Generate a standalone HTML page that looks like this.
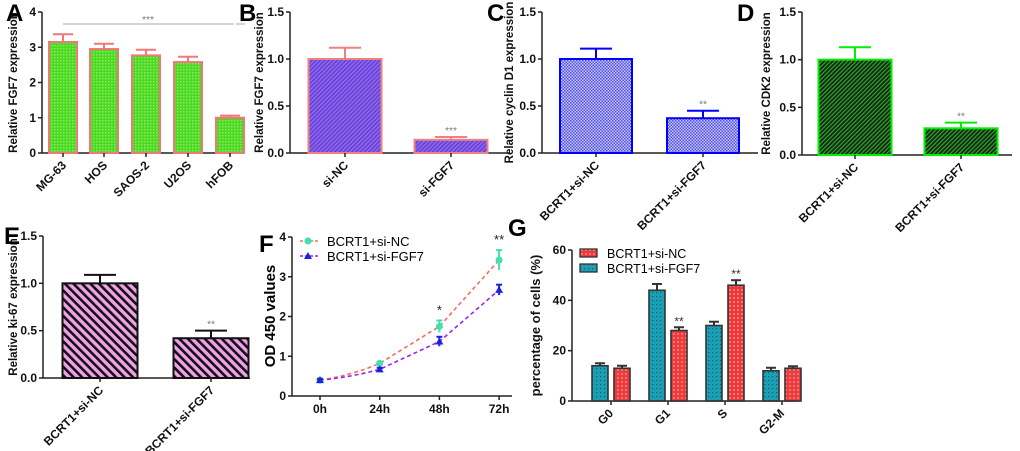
<!DOCTYPE html>
<html><head><meta charset="utf-8"><style>
html,body{margin:0;padding:0;background:#fff;}
svg{display:block;font-family:"Liberation Sans",Arial,sans-serif;}
.tk{font-size:12px;font-weight:bold;fill:#111;}
.yt{font-size:11.5px;font-weight:bold;fill:#111;}
.pl{font-size:24px;font-weight:bold;fill:#000;}
.st{font-size:10px;fill:#777;}
</style></head><body>
<svg id="fig" width="1020" height="451" viewBox="0 0 1020 451">
<defs>
<pattern id="pA" width="3" height="3" patternUnits="userSpaceOnUse"><rect width="3" height="3" fill="#44dd22"/><rect width="1.5" height="1.5" fill="#9be060"/></pattern>
<pattern id="pB" width="3" height="3" patternUnits="userSpaceOnUse" patternTransform="rotate(45)"><rect width="3" height="3" fill="#4a4af0"/><rect width="1.4" height="3" fill="#b060d0"/></pattern>
<pattern id="pC" width="3" height="3" patternUnits="userSpaceOnUse"><rect width="3" height="3" fill="#c8c8ff"/><rect width="1.5" height="1.5" fill="#5050e0"/><rect x="1.5" y="1.5" width="1.5" height="1.5" fill="#5050e0"/></pattern>
<pattern id="pD" width="3" height="3" patternUnits="userSpaceOnUse" patternTransform="rotate(45)"><rect width="3" height="3" fill="#0a2a0a"/><rect width="1.2" height="3" fill="#3aa03a"/></pattern>
<pattern id="pE" width="6" height="6" patternUnits="userSpaceOnUse" patternTransform="rotate(-45)"><rect width="6" height="6" fill="#f0a0e8"/><rect width="2.6" height="6" fill="#111"/></pattern>
<pattern id="pT" width="4" height="4" patternUnits="userSpaceOnUse"><rect width="4" height="4" fill="#1a9fb5"/><rect width="1.2" height="1.2" fill="#0c5c70"/></pattern>
<pattern id="pR" width="4" height="4" patternUnits="userSpaceOnUse"><rect width="4" height="4" fill="#ee3a3a"/><circle cx="2" cy="2" r="0.9" fill="#f8a0a0"/></pattern>
</defs>
</svg>
<script>
// ---- data ----
const catA=["MG-63","HOS","SAOS-2","U2OS","hFOB"];
const valA=[3.15,2.95,2.77,2.58,1.0];
const errA=[0.22,0.15,0.16,0.15,0.06];
const catB=["si-NC","si-FGF7"];
const valB=[1.0,0.14];
const errB=[0.12,0.03];
const catC=["BCRT1+si-NC","BCRT1+si-FGF7"];
const valC=[1.0,0.37];
const errC=[0.11,0.08];
const valD=[1.0,0.28];
const errD=[0.13,0.06];
const valE=[1.0,0.42];
const errE=[0.09,0.08];
const timeF=["0h","24h","48h","72h"];
const ncF=[0.4,0.82,1.75,3.42];
const ncErrF=[0.03,0.04,0.15,0.25];
const fgF=[0.4,0.67,1.37,2.67];
const fgErrF=[0.03,0.04,0.12,0.13];
const phaseG=["G0","G1","S","G2-M"];
const fgG=[14,44,30,12];
const fgErrG=[1,2.5,1.5,1.2];
const ncG=[13,28,46,13];
const ncErrG=[1,1.3,2,0.8];
const ticks4=["0","1","2","3","4"];
const ticks15=["0.0","0.5","1.0","1.5"];
const ticksG=["0","20","40","60"];

const NS="http://www.w3.org/2000/svg";
const svg=document.getElementById('fig');
function mk(tag,at,parent,txt){const e=document.createElementNS(NS,tag);for(const k in at)e.setAttribute(k,at[k]);if(txt!==undefined)e.textContent=txt;(parent||svg).appendChild(e);return e;}

function axes(g,x0,x1,y0,y1,max,ticks,title,tx,tstyle){
  const ys=v=>y0-(v/max)*(y0-y1);
  const ya=mk('line',{x1:x0,y1:y1,x2:x0,y2:y0,stroke:'#222','stroke-width':1.5},g);
  
  
  const xa=mk('line',{x1:x0,y1:y0,x2:x1,y2:y0,stroke:'#222','stroke-width':1.5},g);
  
  
  ticks.forEach(t=>{const v=parseFloat(t);const y=ys(v);
    mk('line',{x1:x0-4,y1:y,x2:x0,y2:y,stroke:'#222','stroke-width':1.5},g);
    const l=mk('text',{x:x0-6,y:y+4,'text-anchor':'end',class:'tk'},g,t);
    
    });
  if(title){
  const tt=mk('text',{x:tx,y:(y0+y1)/2,'text-anchor':'middle',class:'yt',style:tstyle||'',transform:`rotate(-90 ${tx} ${(y0+y1)/2})`},g,title);
  
  }
  return ys;
}
function errBar(g,cx,ytop,yv,hw,col){
  mk('line',{x1:cx,y1:yv,x2:cx,y2:ytop,stroke:col,'stroke-width':2},g);
  mk('line',{x1:cx-hw,y1:ytop,x2:cx+hw,y2:ytop,stroke:col,'stroke-width':2},g);
}
function xLabel(g,x,y,t){
  const l=mk('text',{x:x,y:y,'text-anchor':'end',class:'tk',transform:`rotate(-45 ${x} ${y})`},g,t);
  
  
}
function panelLabel(x,y,t){
  const l=mk('text',{x:x,y:y,class:'pl'},svg,t);
  
  
}
function barPanel(name,o){
  const g=mk('g',{});
  
  
  const ys=axes(g,o.x0,o.x1,o.y0,o.y1,o.max,o.ticks,o.title,o.tx);
  o.vals.forEach((v,i)=>{
    const cx=o.centers[i];
    const top=ys(v);
    errBar(g,cx,ys(v+o.errs[i]),top,o.ebw,o.stroke);
    const r=mk('rect',{x:cx-o.bw/2,y:top,width:o.bw,height:o.y0-top,fill:o.fill,stroke:o.stroke,'stroke-width':o.sw},g);
    
    
    mk('line',{x1:cx,y1:o.y0,x2:cx,y2:o.y0+4,stroke:'#222','stroke-width':1.5},g);
    xLabel(g,cx+4,o.y0+13,o.cats[i]);
    if(o.sig&&o.sig[i]){const s=mk('text',{x:cx,y:ys(v+o.errs[i])-3,'text-anchor':'middle',class:'st'},g,o.sig[i]);
      
      }
  });
  return {g,ys};
}
// A
const pa=barPanel('panel-a',{x0:42,x1:245,y0:153,y1:12,max:4,ticks:ticks4,title:'Relative FGF7 expression',tx:17,
  vals:valA,errs:errA,cats:catA,centers:[63,104,146,188,230],bw:28,ebw:10,fill:'url(#pA)',stroke:'#f07878',sw:2});
mk('line',{x1:63,y1:24,x2:234,y2:24,stroke:'#aaa','stroke-width':1},pa.g);
mk('line',{x1:236,y1:24,x2:245,y2:24,stroke:'#aaa','stroke-width':1},pa.g);
const sa=mk('text',{x:148,y:23,'text-anchor':'middle',class:'st'},pa.g,'***');


// B
barPanel('panel-b',{x0:290,x1:510,y0:153,y1:12,max:1.5,ticks:ticks15,title:'Relative FGF7 expression',tx:263,
  vals:valB,errs:errB,cats:catB,centers:[345,451],bw:73,ebw:16,fill:'url(#pB)',stroke:'#f08080',sw:2,sig:['','***']});
// C
barPanel('panel-c',{x0:542,x1:758,y0:153,y1:12,max:1.5,ticks:ticks15,title:'Relative cyclin D1 expression',tx:513,
  vals:valC,errs:errC,cats:catC,centers:[596,703],bw:72,ebw:16,fill:'url(#pC)',stroke:'#0000ff',sw:2,sig:['','**']});
// D
barPanel('panel-d',{x0:802,x1:1012,y0:155,y1:12,max:1.5,ticks:ticks15,title:'Relative CDK2 expression',tx:770,
  vals:valD,errs:errD,cats:catC,centers:[855,961],bw:73,ebw:16,fill:'url(#pD)',stroke:'#00ee00',sw:2,sig:['','**']});
// E
barPanel('panel-e',{x0:43,x1:250,y0:378,y1:236,max:1.5,ticks:ticks15,title:'Relative ki-67 expression',tx:17,
  vals:valE,errs:errE,cats:catC,centers:[100,211],bw:75,ebw:16,fill:'url(#pE)',stroke:'#111',sw:2,sig:['','**']});

// F line chart
(function(){
  const g=mk('g',{});
  
  
  const x0=292,x1=512,y0=396,y1=237;
  const ys=axes(g,x0,x1,y0,y1,4,ticks4,'',0);
  const ti=mk('text',{x:275,y:316,'text-anchor':'middle',style:'font-size:15px;font-weight:bold',transform:'rotate(-90 275 316)'},g,'OD 450 values');
  
  
  const xs=i=>320+i*59.7;
  timeF.forEach((t,i)=>{mk('line',{x1:xs(i),y1:y0,x2:xs(i),y2:y0+4,stroke:'#222','stroke-width':1.5},g);
    const l=mk('text',{x:xs(i),y:413,'text-anchor':'middle',class:'tk'},g,t);
    
    });
  function curve(vals,col){let d='';for(let i=0;i<vals.length-1;i++){for(let k=0;k<=10;k++){const t=k/10;
      const v=vals[i]+(vals[i+1]-vals[i])*(i===0?t*t*0.5+t*0.5:t);d+=(d?'L':'M')+(xs(i)+t*59.7).toFixed(1)+','+ys(v).toFixed(1);}}
    return mk('path',{d:d,fill:'none',stroke:col,'stroke-width':1.6,'stroke-dasharray':'4,3'},g);}
  const l1=curve(ncF,'#f07060');
  const l2=curve(fgF,'#a020f0');
  ncF.forEach((v,i)=>{errBar(g,xs(i),ys(v+ncErrF[i]),ys(v-ncErrF[i]),3,'#40e0b0');
    const c=mk('circle',{cx:xs(i),cy:ys(v),r:3.5,fill:'#40e0b0'},g);
    
    });
  fgF.forEach((v,i)=>{errBar(g,xs(i),ys(v+fgErrF[i]),ys(v-fgErrF[i]),3,'#2020e0');
    const y=ys(v);const p=mk('polygon',{points:`${xs(i)-4},${y+3} ${xs(i)+4},${y+3} ${xs(i)},${y-4}`,fill:'#2020e0'},g);
    
    });
  [['*',2],['**',3]].forEach(([s,i])=>{const t=mk('text',{x:xs(i),y:ys(ncF[i]+ncErrF[i])-6,'text-anchor':'middle',style:'font-size:13px',fill:'#222'},g,s);
    });
  const lg=mk('g',{},g);
  mk('line',{x1:300,y1:241,x2:318,y2:241,stroke:'#f07060','stroke-dasharray':'3,2','stroke-width':1.6},lg);
  mk('circle',{cx:308,cy:241,r:3.5,fill:'#40e0b0'},lg);
  mk('text',{x:327,y:246,style:'font-size:13px'},lg,'BCRT1+si-NC');
  mk('line',{x1:300,y1:256,x2:318,y2:256,stroke:'#a020f0','stroke-dasharray':'3,2','stroke-width':1.6},lg);
  mk('polygon',{points:'304,259 312,259 308,252',fill:'#2020e0'},lg);
  mk('text',{x:327,y:261,style:'font-size:13px'},lg,'BCRT1+si-FGF7');
})();

// G grouped bars
(function(){
  const g=mk('g',{});
  
  
  const x0=572,x1=799,y0=401,y1=250;
  const ys=axes(g,x0,x1,y0,y1,60,ticksG,'percentage of cells (%)',540,'font-size:13px');
  const gc=i=>611+i*57;
  phaseG.forEach((p,i)=>{
    [[fgG,fgErrG,'url(#pT)',-11,'fgf7'],[ncG,ncErrG,'url(#pR)',11,'nc']].forEach(([vals,errs,fill,off,nm])=>{
      const cx=gc(i)+off,top=ys(vals[i]);
      errBar(g,cx,ys(vals[i]+errs[i]),top,5,'#333');
      const r=mk('rect',{x:cx-8,y:top,width:16,height:y0-top,fill:fill,stroke:'#333','stroke-width':1.6},g);
      
      
    });
    mk('line',{x1:gc(i),y1:y0,x2:gc(i),y2:y0+4,stroke:'#222','stroke-width':1.5},g);
    xLabel(g,gc(i)+3,y0+13,p);
  });
  [1,2].forEach(i=>{const t=mk('text',{x:gc(i)+11,y:ys(ncG[i]+ncErrG[i])-2,'text-anchor':'middle',style:'font-size:12px',fill:'#333'},g,'**');
    });
  const lg=mk('g',{},g);
  mk('rect',{x:580,y:249,width:17,height:8,fill:'url(#pR)',stroke:'#333','stroke-width':1.3},lg);
  mk('text',{x:607,y:258,style:'font-size:12.5px'},lg,'BCRT1+si-NC');
  mk('rect',{x:580,y:264,width:17,height:8,fill:'url(#pT)',stroke:'#333','stroke-width':1.3},lg);
  mk('text',{x:607,y:273,style:'font-size:12.5px'},lg,'BCRT1+si-FGF7');
})();

panelLabel(6,21,'A');panelLabel(239,21,'B');panelLabel(487,21,'C');panelLabel(737,21,'D');
panelLabel(4,244,'E');panelLabel(259,252,'F');panelLabel(508,236,'G');
</script>
</body></html>
